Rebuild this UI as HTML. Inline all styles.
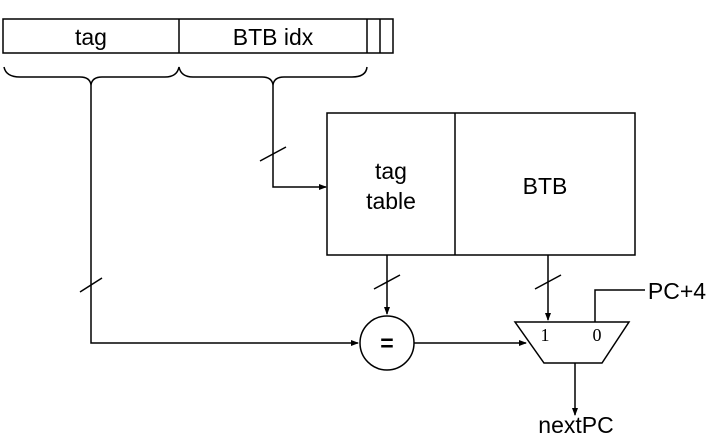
<!DOCTYPE html>
<html><head><style>body{margin:0;background:#fff}</style></head><body>
<svg width="723" height="439" xmlns="http://www.w3.org/2000/svg" font-family="Liberation Sans, sans-serif">
<defs><marker id="a" markerWidth="8" markerHeight="8" refX="7" refY="4" orient="auto" markerUnits="userSpaceOnUse"><path d="M0,1 L8,4 L0,7z" fill="#000"/></marker></defs>
<g stroke="#000" stroke-width="1.5" fill="none">
<rect x="3" y="19" width="390" height="34"/>
<line x1="179" y1="19" x2="179" y2="53"/>
<line x1="367" y1="19" x2="367" y2="53"/>
<line x1="380" y1="19" x2="380" y2="53"/>
<path d="M4,67 Q6,77 20,77 L80,77 Q90,77 91,85 Q92,77 102,77 L165,77 Q177,77 179,67 Q181,77 193,77 L262,77 Q272,77 273,85 Q274,77 284,77 L352,77 Q366,77 367,67"/>
<polyline points="91,85 91,343 358,343" marker-end="url(#a)"/>
<polyline points="273,85 273,187 326,187" marker-end="url(#a)"/>
<line x1="80" y1="292" x2="102" y2="278"/>
<line x1="260" y1="161" x2="286" y2="147"/>
<rect x="327" y="113" width="308" height="142"/>
<line x1="455" y1="113" x2="455" y2="255"/>
<line x1="387" y1="255" x2="387" y2="314" marker-end="url(#a)"/>
<line x1="374" y1="289" x2="400" y2="275"/>
<circle cx="387" cy="343" r="27"/>
<line x1="548" y1="255" x2="548" y2="320" marker-end="url(#a)"/>
<line x1="535" y1="289" x2="561" y2="275"/>
<polyline points="414,343 526,343" marker-end="url(#a)"/>
<polygon points="515,322 629,322 602,363 544,363"/>
<polyline points="595,322 595,290 645,290"/>
<line x1="575" y1="363" x2="575" y2="415" marker-end="url(#a)"/>
</g>
<g font-size="23" text-anchor="middle" fill="#000">
<text x="91" y="45">tag</text>
<text x="273" y="45">BTB idx</text>
<text x="391" y="179">tag</text>
<text x="391" y="209">table</text>
<text x="545" y="194">BTB</text>
<text x="387" y="351" font-weight="bold">=</text>
<text x="677" y="299">PC+4</text>
<text x="576" y="433">nextPC</text>
</g>
<g font-size="18" text-anchor="middle" font-family="Liberation Serif, serif">
<text x="545" y="341">1</text>
<text x="597" y="341">0</text>
</g>
</svg>
</body></html>
